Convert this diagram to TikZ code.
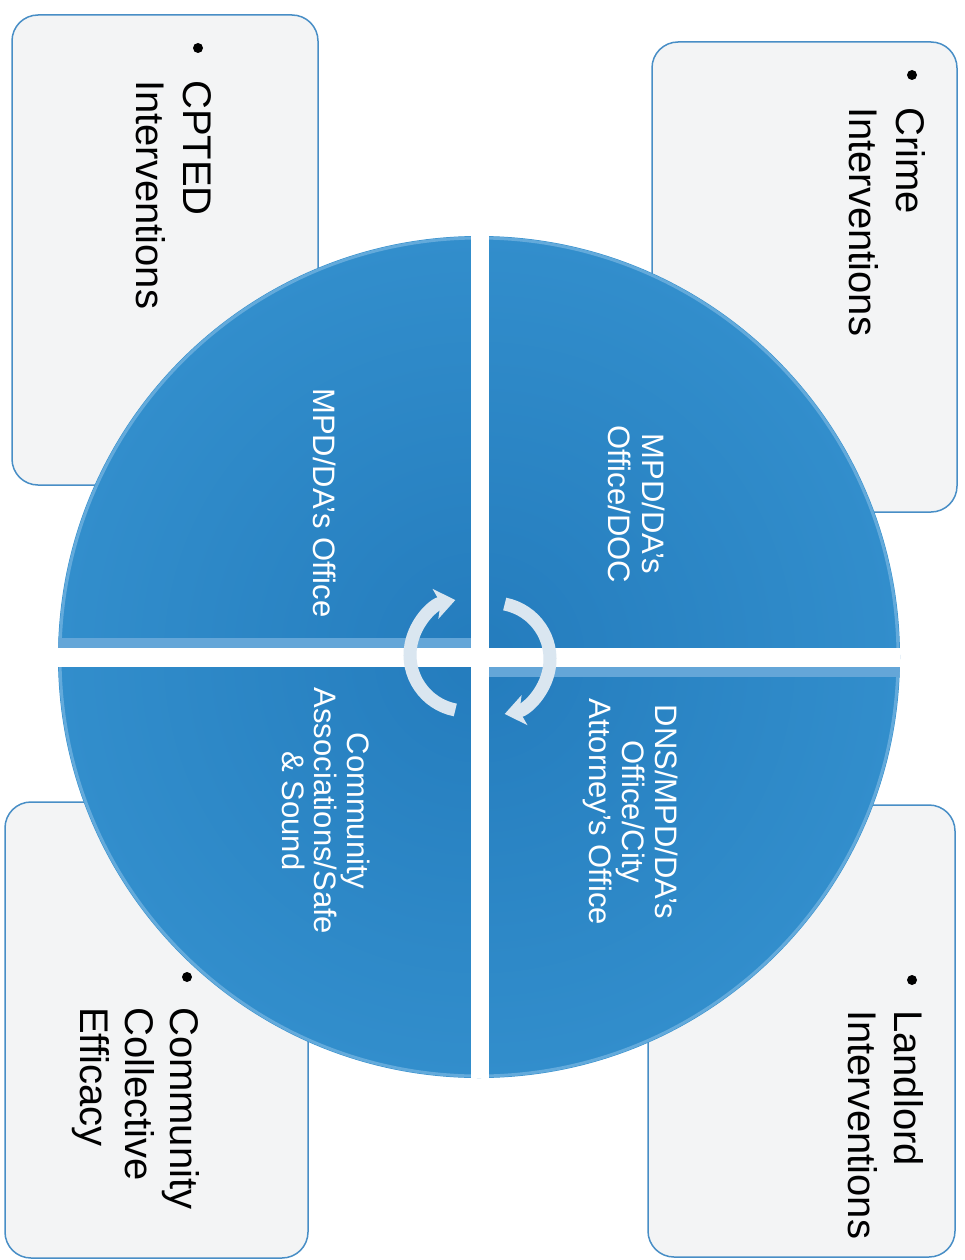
\documentclass[tikz,border=0pt]{standalone}
\usepackage{fontspec}
\setmainfont{Liberation Sans}
\usetikzlibrary{arrows.meta}
\definecolor{diskblue}{RGB}{40,132,196}
\definecolor{diskinner}{RGB}{36,124,189}
\definecolor{diskouter}{RGB}{50,142,204}
\definecolor{diskrim}{RGB}{120,182,226}
\definecolor{boxfill}{RGB}{243,244,245}
\definecolor{boxline}{RGB}{72,142,198}
\definecolor{arrowcol}{RGB}{218,230,240}
\definecolor{bevel}{RGB}{100,166,216}
\begin{document}
\begin{tikzpicture}[x=1pt,y=-1pt,
  boxstyle/.style={draw=boxline, line width=1.5pt, fill=boxfill, rounded corners=26pt, inner sep=0pt},
  boxtext/.style={rotate=-90, anchor=base west, inner sep=0pt, font=\fontsize{40}{46}\selectfont, text=black},
  disktext/.style={rotate=-90, anchor=base, inner sep=0pt, font=\fontsize{31}{33}\selectfont, text=white},
  cyclearrow/.style={draw=arrowcol, line width=13pt, -{Stealth[length=20pt,width=30pt,inset=5pt]}}
]
\useasboundingbox (0,0) rectangle (965,1260);
\fill[white] (0,0) rectangle (965,1260);

% outer boxes
\node[boxstyle, minimum width=306pt, minimum height=470pt] (cptedbox) at (165,250) {};
\node[boxstyle, minimum width=305pt, minimum height=470pt] (crimebox) at (804.5,277) {};
\node[boxstyle, minimum width=303pt, minimum height=456pt] (effbox) at (156.5,1030) {};
\node[boxstyle, minimum width=307pt, minimum height=452pt] (landbox) at (801.5,1031) {};

% box texts
\fill (198,48) circle (5);
\node[boxtext] (cpted1) at (183,80) {CPTED};
\node[boxtext] (cpted2) at (136,80) {Interventions};

\fill (912,75) circle (5);
\node[boxtext] (crime1) at (896,107) {Crime};
\node[boxtext] (crime2) at (849,107) {Interventions};

\fill (187,977) circle (5);
\node[boxtext] (eff1) at (170,1007) {Community};
\node[boxtext] (eff2) at (125,1007) {Collective};
\node[boxtext] (eff3) at (80,1007) {Efficacy};

\fill (912,980) circle (5);
\node[boxtext] (land1) at (894,1010) {Landlord};
\node[boxtext] (land2) at (848,1010) {Interventions};

% disk
\shade[inner color=diskinner, outer color=diskouter] (479,657) circle (421);
\draw[diskrim, line width=3pt, opacity=0.7] (479,657) circle (419);
\begin{scope}
  \clip (479,657) circle (421);
  \fill[bevel] (50,638) rectangle (471,648);
  \fill[bevel] (489,667) rectangle (910,677);
  \fill[white] (471,225) rectangle (489,1090);
  \fill[white] (50,648) rectangle (910,667);
\end{scope}

% disk texts
\node[disktext] (tr1) at (642,504) {MPD/DA's};
\node[disktext] (tr2) at (608,504) {Office/DOC};

\node[disktext] (br1) at (655,812) {DNS/MPD/DA's};
\node[disktext] (br2) at (622,812) {Office/City};
\node[disktext] (br3) at (589,812) {Attorney's Office};

\node[disktext] (tl1) at (313,503) {MPD/DA's Office};

\node[disktext] (bl1) at (347,811) {Community};
\node[disktext] (bl2) at (314,811) {Associations/Safe};
\node[disktext] (bl3) at (282,811) {\& Sound};

% cycle arrows
\draw[cyclearrow] (466,655) ++(101:56) arc[start angle=101, end angle=259, radius=56];
\draw[cyclearrow] (494,659) ++(-79:56) arc[start angle=-79, end angle=79, radius=56];
\end{tikzpicture}
\end{document}
